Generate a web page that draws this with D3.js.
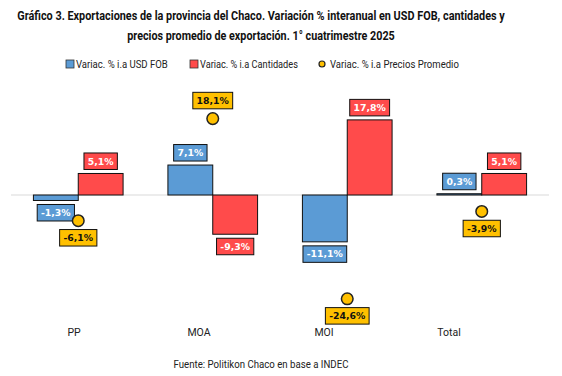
<!DOCTYPE html>
<html><head><meta charset="utf-8">
<script src="https://cdn.jsdelivr.net/npm/d3@7"></script>
<style>body{margin:0;background:#fff}svg{display:block}</style>
</head><body>
<script>
const categories = ["PP", "MOA", "MOI", "Total"];
const usdFob = [-1.3, 7.1, -11.1, 0.3];
const cantidades = [5.1, -9.3, 17.8, 5.1];
const precios = [-6.1, 18.1, -24.6, -3.9];
const seriesNames = ["Variac. % i.a USD FOB", "Variac. % i.a Cantidades", "Variac. % i.a Precios Promedio"];
const titleLines = ["Gráfico 3. Exportaciones de la provincia del Chaco. Variación % interanual en USD FOB, cantidades y",
                    "precios promedio de exportación. 1° cuatrimestre 2025"];
const sourceText = "Fuente: Politikon Chaco en base a INDEC";

const W = 562, H = 376;
const BLUE = "#5B9BD5", RED = "#FF4B4B", YEL = "#FFC000";
const svg = d3.select("body").append("svg").attr("width", W).attr("height", H);

// Title (horizontally condensed via scale to mimic a condensed face)
const tFont = "Roboto, 'Liberation Sans', sans-serif";
function condensedText(txt, cx, cy, size, weight, targetW, color) {
  const g = svg.append("g");
  const t = g.append("text").attr("x", 0).attr("y", 0).attr("text-anchor", "middle")
    .attr("font-family", tFont).attr("font-weight", weight).attr("font-size", size).attr("fill", color).text(txt);
  const w = t.node().getComputedTextLength();
  g.attr("transform", `translate(${cx},${cy}) scale(${targetW / w},1)`);
  return g;
}
condensedText(titleLines[0], 261, 20, 12.5, "bold", 488, "#111");
condensedText(titleLines[1], 261, 40, 12.5, "bold", 268, "#111");

// Legend
const lg = svg.append("g").attr("font-family", tFont).attr("font-size", 10).attr("fill", "#222");
const legItems = [
  {x: 66, type: "rect", color: BLUE, tx: 76, tw: 92},
  {x: 190, type: "rect", color: RED, tx: 200, tw: 98},
  {x: 322, type: "dot", color: YEL, tx: 330, tw: 129}
];
legItems.forEach((it, i) => {
  if (it.type === "rect") {
    lg.append("rect").attr("x", it.x).attr("y", 60).attr("width", 8).attr("height", 8)
      .attr("fill", it.color).attr("stroke", "#333").attr("stroke-width", 0.8);
  } else {
    lg.append("circle").attr("cx", it.x).attr("cy", 64).attr("r", 3)
      .attr("fill", it.color).attr("stroke", "#222").attr("stroke-width", 1.2);
  }
  const g = lg.append("g");
  const t = g.append("text").attr("x", 0).attr("y", 0).text(seriesNames[i]);
  const w = t.node().getComputedTextLength();
  g.attr("transform", `translate(${it.tx},68) scale(${it.tw / w},1)`);
});

// Scales
const x0 = d3.scaleBand().domain(categories).range([11, 549]).paddingInner(0).paddingOuter(0);
const keys = ["usd", "cant"];
const x1 = d3.scaleBand().domain(keys).range([0, x0.bandwidth()]).paddingInner(0).paddingOuter(0.5);
const y = d3.scaleLinear().domain([-30, 20]).range([321.6, 110.6]);
const xLab = d3.scaleBand().domain(categories).range([11.5, 511.5]);

// zero line
svg.append("line").attr("x1", 11).attr("x2", 549).attr("y1", y(0)).attr("y2", y(0))
  .attr("stroke", "#d9d9d9").attr("stroke-width", 1.2);

const data = categories.map((c, i) => ({c, usd: usdFob[i], cant: cantidades[i], precio: precios[i]}));
const colors = {usd: BLUE, cant: RED};

const gBars = svg.append("g");
data.forEach(d => {
  keys.forEach(k => {
    const v = d[k];
    gBars.append("rect")
      .attr("x", x0(d.c) + x1(k)).attr("width", x1.bandwidth())
      .attr("y", Math.min(y(v), y(0))).attr("height", Math.abs(y(v) - y(0)))
      .attr("fill", colors[k]).attr("stroke", "#111").attr("stroke-width", 1);
  });
});

const fmt = v => d3.format(".1f")(v).replace(".", ",").replace("−", "-") + "%";
const lblFont = "'DejaVu Sans', Verdana, sans-serif";
function label(cx, edgeY, above, fill, textColor, v) {
  const g = svg.append("g");
  const bh = 16.5;
  const top = above ? edgeY - bh : edgeY;
  const t = g.append("text").attr("x", cx).attr("y", top + bh / 2 + 3.3).attr("text-anchor", "middle")
    .attr("font-family", lblFont).attr("font-size", 9.3).attr("font-weight", "bold")
    .attr("fill", textColor).text(fmt(v));
  const tw = t.node().getComputedTextLength();
  g.insert("rect", "text").attr("x", cx - tw / 2 - 3.8).attr("y", top).attr("width", tw + 7.6).attr("height", bh)
    .attr("fill", fill).attr("stroke", "#111").attr("stroke-width", 1);
}

// bar labels
data.forEach(d => {
  keys.forEach(k => {
    const v = d[k];
    const cx = x0(d.c) + x1(k) + x1.bandwidth() / 2;
    if (v >= 0) label(cx, y(v) - 4, true, colors[k], "#fff", v);
    else label(cx, y(v) + 4, false, colors[k], "#fff", v);
  });
});

// dots
const R = 5.8;
data.forEach(d => {
  const cx = x0(d.c) + x0.bandwidth() / 2;
  svg.append("circle").attr("cx", cx).attr("cy", y(d.precio)).attr("r", R)
    .attr("fill", YEL).attr("stroke", "#222").attr("stroke-width", 1.5);
  if (d.precio >= 0) label(cx, y(d.precio) - R - 4, true, YEL, "#111", d.precio);
  else label(cx, y(d.precio) + R + 3, false, YEL, "#111", d.precio);
});

// category labels
const xAxis = svg.append("g").attr("transform", "translate(0,333)")
  .call(d3.axisBottom(xLab).tickSize(0).tickPadding(0));
xAxis.select(".domain").remove();
xAxis.selectAll("text").attr("font-family", tFont).attr("font-size", 10.5).attr("fill", "#222").attr("dy", "0.3em");

// source
const sg = svg.append("g");
const st = sg.append("text").attr("x", 0).attr("y", 0).attr("text-anchor", "middle")
  .attr("font-family", tFont).attr("font-size", 10.5).attr("fill", "#222").text(sourceText);
sg.attr("transform", `translate(261,368) scale(${175 / st.node().getComputedTextLength()},1)`);
</script>
</body></html>
